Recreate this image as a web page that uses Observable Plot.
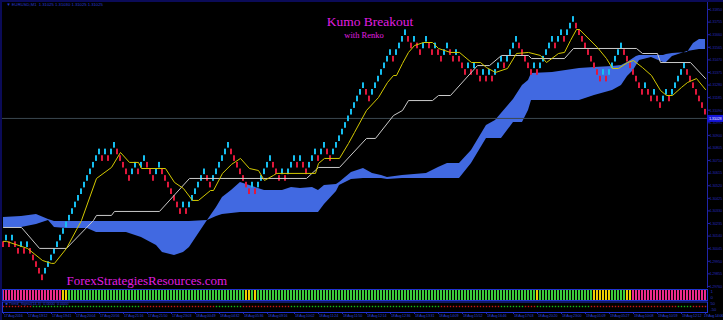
<!DOCTYPE html>
<html><head><meta charset="utf-8">
<script src="https://cdn.jsdelivr.net/npm/d3@7"></script>
<script src="https://cdn.jsdelivr.net/npm/@observablehq/plot@0.6"></script>
<style>
html,body{margin:0;padding:0;background:#000;}
#chart{width:721px;height:318px;border-left:2px solid #0b0b58;border-top:2px solid #0b0b58;background:#000;overflow:hidden;line-height:0;}
#chart svg{display:block;max-width:none;}
</style></head><body><div id="chart"></div>
<script>
// ---------- data ----------
const brickSize = 0.0005;
const brickBase = 1.2995;
const firstBrickUp = false;
const brickLows = [2,3,2,3,2,1,2,1,2,1,0,-1,-2,-3,
 -2,-1,0,1,2,3,4,5,6,7,8,9,10,11,12,13,14,
 15,16,15,16,15,16,17,16,15,14,13,12,
 13,14,13,14,15,14,13,12,13,14,13,12,11,10,9,8,7,
 8,7,8,9,10,11,12,13,12,11,12,13,14,15,16,17,
 16,15,14,13,12,11,10,11,10,11,12,13,14,15,
 14,13,12,13,12,13,14,15,14,15,14,13,14,15,16,15,16,17,16,15,16,17,18,19,20,21,22,
 23,24,25,26,25,24,25,26,27,28,29,30,31,30,31,32,33,34,
 33,32,33,32,31,32,33,32,31,32,31,30,31,32,31,30,31,30,29,28,29,28,29,28,27,28,27,28,27,28,29,30,
 29,30,31,32,33,32,31,30,29,28,29,28,29,30,31,32,33,32,33,34,33,34,35,36,
 35,34,33,32,31,30,29,28,27,28,27,28,29,30,31,32,31,30,29,28,27,26,25,
 26,25,24,25,24,23,24,25,24,25,26,27,28,29,28,27,26,25,24,23,22];

const yellowBar = [0,1,8,13,16,17,21,26,31,36,39,42,45,46,54,57,60,63,65,69,70,73,76,79,82,85,87,90,91,104,105,107,112,115,117,121,125,128,130,131,133,135,137,140,143,145,149,152,156,159,161,164,168,171,175,179,181,185,187,189,191,192,198,201,203,205,208,210,213,216,219,221,223,226,228,231,234];
const yellowPrice = [1.30100,1.30100,1.30047,1.29956,1.29934,1.29934,1.30047,1.30258,1.30575,1.30658,1.30771,1.30696,1.30696,1.30650,1.30650,1.30545,1.30499,1.30409,1.30409,1.30484,1.30484,1.30613,1.30681,1.30726,1.30650,1.30635,1.30560,1.30598,1.30613,1.30613,1.30688,1.30726,1.30726,1.30839,1.30922,1.31088,1.31186,1.31299,1.31352,1.31352,1.31443,1.31526,1.31578,1.31601,1.31601,1.31556,1.31526,1.31526,1.31450,1.31450,1.31412,1.31375,1.31405,1.31518,1.31526,1.31503,1.31450,1.31518,1.31526,1.31616,1.31699,1.31699,1.31563,1.31480,1.31405,1.31405,1.31450,1.31465,1.31412,1.31352,1.31239,1.31201,1.31201,1.31262,1.31299,1.31329,1.31246];

const whiteBar = [0,6,12,21,30,31,36,37,52,62,101,105,112,121,124,130,133,135,143,145,149,158,162,166,175,176,187,190,211,213,218,219,229,234];
const whitePrice = [1.30205,1.30205,1.30047,1.30047,1.30258,1.30296,1.30296,1.30326,1.30326,1.30575,1.30575,1.30658,1.30658,1.30877,1.30877,1.31050,1.31088,1.31163,1.31163,1.31201,1.31201,1.31427,1.31427,1.31503,1.31503,1.31480,1.31480,1.31556,1.31556,1.31518,1.31518,1.31450,1.31450,1.31329];

const cloudBar = [0,6,11,15,17,21,28,31,41,46,51,53,57,60,62,68,71,73,76,79,87,93,96,99,103,105,107,111,112,116,120,123,126,128,133,141,145,148,152,156,159,161,164,166,170,173,175,176,183,192,197,203,206,208,210,211,212,216,220,221,223,228,230,232,234];
const cloudSpanA = [1.30281,1.30288,1.30303,1.30266,1.30250,1.30250,1.30250,1.30250,1.30250,1.30250,1.30250,1.30250,1.30250,1.30250,1.30250,1.30258,1.30356,1.30432,1.30484,1.30545,1.30484,1.30484,1.30507,1.30499,1.30507,1.30484,1.30522,1.30530,1.30545,1.30620,1.30650,1.30613,1.30598,1.30582,1.30598,1.30613,1.30658,1.30688,1.30688,1.30786,1.30899,1.30975,1.31013,1.31065,1.31171,1.31277,1.31314,1.31367,1.31375,1.31405,1.31412,1.31420,1.31427,1.31450,1.31480,1.31495,1.31503,1.31503,1.31503,1.31510,1.31518,1.31526,1.31593,1.31624,1.31624];
const cloudSpanB = [1.30205,1.30205,1.30228,1.30258,1.30205,1.30198,1.30198,1.30167,1.30167,1.30130,1.30069,1.30017,1.29994,1.30017,1.30054,1.30258,1.30288,1.30303,1.30311,1.30318,1.30318,1.30318,1.30318,1.30318,1.30318,1.30318,1.30379,1.30477,1.30522,1.30567,1.30575,1.30575,1.30575,1.30567,1.30575,1.30575,1.30575,1.30575,1.30575,1.30688,1.30801,1.30877,1.30877,1.30877,1.30997,1.30997,1.31088,1.31163,1.31163,1.31163,1.31201,1.31239,1.31277,1.31345,1.31390,1.31427,1.31465,1.31488,1.31450,1.31450,1.31495,1.31533,1.31541,1.31548,1.31548];

const currentPrice = 1.31028;
const priceTicks = [1.31850,1.31755,1.31660,1.31565,1.31470,1.31375,1.31280,1.31185,1.31090,1.30995,1.30900,1.30805,1.30710,1.30615,1.30520,1.30425,1.30330,1.30235,1.30140,1.30045,1.29950,1.29855,1.29760];

const signalRuns = [["P",20],["Y",2],["G",59],["Y",2],["G",1],["Y",1],["G",93],["Y",1],["G",18],["Y",6],["G",5],["Y",2],["P",25]];
const dotRuns = [["R",10],["G",36],["R",25],["G",9],["R",16],["G",50],["R",20],["G",8],["R",4],["G",18],["R",29],["G",5],["R",5]];
const histLabelTop = "1";
const histLabelBottom = "0";
const dotLevels = [50, -50];

const dateTickBars = [0,8,16,24,32,40,48,56,64,72,80,88,97,105,113,121,129,137,145,153,161,170,178,186,194,202,210,218,226,234];
const dateLabels = ["17 Aug 2016","17 Aug 19:12","17 Aug 19:41","17 Aug 20:04","17 Aug 20:56","17 Aug 21:16","17 Aug 21:50","17 Aug 23:03","18 Aug 00:49","18 Aug 04:32","18 Aug 05:36","18 Aug 09:16","18 Aug 10:02","18 Aug 11:24","18 Aug 11:50","18 Aug 12:14","18 Aug 12:36","18 Aug 13:31","18 Aug 14:09","18 Aug 15:52","18 Aug 16:46","18 Aug 17:03","18 Aug 20:20","18 Aug 23:00","19 Aug 01:09","19 Aug 05:27","19 Aug 10:08","19 Aug 10:59","19 Aug 12:12","19 Aug 14:06"];

const titleText = "Kumo Breakout";
const subtitleText = "with Renko";
const watermark = "ForexStrategiesResources.com";
const symbolInfo = "\u25BC EURUSD,M1  1.31025 1.31030 1.31025 1.31025";
const indicatorInfo = "\u25A0 Trend_Signal(14,3)  0.0000  0.0000";

// ---------- build tables ----------
const bricks = brickLows.map((L, i) => ({
  i, low: brickBase + L * brickSize, high: brickBase + (L + 1) * brickSize,
  up: i === 0 ? firstBrickUp : L > brickLows[i - 1]
}));
const yellow = yellowBar.map((i, k) => ({i, p: yellowPrice[k]}));
const white = whiteBar.map((i, k) => ({i, p: whitePrice[k]}));
const cloud = cloudBar.map((i, k) => ({i, a: cloudSpanA[k], b: cloudSpanB[k]}));
const signal = signalRuns.flatMap(([s, n]) => Array(n).fill(s)).map((s, i) => ({i, s, v: 1}));
const dots = dotRuns.flatMap(([s, n]) => Array(n).fill(s)).map((s, i) => ({i, s, v: 0}));
const dates = dateTickBars.map((i, k) => ({i, label: dateLabels[k]}));
const datesMain = dates.slice(0, -1);
const dateLast = dates.slice(-1);

const xDomain = [-0.33, 234.67];
const W = 721, MR = 16;
const axisColor = "#2024a8";
const labelColor = "#2a36c0";
const magenta = "#e01ee0";
const serif = "'Liberation Serif', 'DejaVu Serif', serif";
const sans = "'Liberation Sans', Arial, sans-serif";
const sigColor = {P: "#f02a8e", Y: "#f0d000", G: "#3ccf3c"};
const dotColor = {R: "#c41818", G: "#18b818"};
const halfW = 0.33;

const baseStyle = {background: "#000", color: axisColor, fontSize: "4px", fontFamily: sans, overflow: "visible"};

// ---------- price panel ----------
const main = Plot.plot({
  width: W, height: 286,
  marginLeft: 0, marginRight: MR, marginTop: 0, marginBottom: 1,
  style: baseStyle,
  x: {domain: xDomain, axis: null},
  y: {domain: [1.29752, 1.31903], axis: "right", ticks: priceTicks, tickFormat: d3.format(".5f"),
      tickSize: 2, tickPadding: 0, line: true, label: null},
  marks: [
    Plot.areaY(cloud, {x: "i", y1: "a", y2: "b", fill: "#4169e1", curve: "linear"}),
    Plot.ruleY([currentPrice], {stroke: "#3b4850", strokeWidth: 1}),
    Plot.rect(bricks, {x1: d => d.i - halfW, x2: d => d.i + halfW, y1: "low", y2: "high",
      insetTop: 0.5, insetBottom: 0.5, fill: d => d.up ? "#16c0f2" : "#e2183c"}),
    Plot.line(white, {x: "i", y: "p", stroke: "#cacaca", strokeWidth: 1}),
    Plot.line(yellow, {x: "i", y: "p", stroke: "#d4c900", strokeWidth: 1}),
    Plot.ruleY([currentPrice], {x1: xDomain[1], x2: xDomain[1] + 5.4, stroke: "#1616d8", strokeWidth: 7}),
    Plot.text([currentPrice], {y: d => d, text: d => d3.format(".5f")(d), frameAnchor: "right",
      dx: 1.5, textAnchor: "start", fill: "#e8e8ff", fontSize: 4, fontFamily: sans}),
    Plot.text([titleText], {frameAnchor: "top", dx: 15, dy: 23, lineAnchor: "bottom",
      fill: magenta, fontSize: 13.5, fontFamily: serif}),
    Plot.text([subtitleText], {frameAnchor: "top", dx: 9, dy: 35, lineAnchor: "bottom",
      fill: magenta, fontSize: 8.5, fontFamily: serif}),
    Plot.text([watermark], {frameAnchor: "bottom-left", dx: 64, dy: -3, lineAnchor: "bottom",
      textAnchor: "start", fill: magenta, fontSize: 13, fontFamily: serif}),
    Plot.text([symbolInfo], {frameAnchor: "top-left", dx: 4, dy: 2.5, lineAnchor: "middle",
      textAnchor: "start", fill: "#2a3ad0", fontSize: 4.2, fontFamily: sans})
  ]
});
// tighten the price labels so they fit in the narrow right gutter
d3.select(main).selectAll("text")
  .filter(function() { return /^\d\.\d{5}$/.test(this.textContent); })
  .style("letter-spacing", "-0.3px");

// ---------- histogram panel ----------
const hist = Plot.plot({
  width: W, height: 13,
  marginLeft: 0, marginRight: MR, marginTop: 1, marginBottom: 1,
  style: baseStyle,
  x: {domain: xDomain, axis: null},
  y: {domain: [0, 1], axis: null},
  marks: [
    Plot.rect(signal, {x1: d => d.i - halfW, x2: d => d.i + halfW, y1: 0, y2: "v", fill: d => sigColor[d.s]}),
    Plot.frame({stroke: "#2033d2", strokeWidth: 1}),
    Plot.text([histLabelTop], {frameAnchor: "top-right", dx: 3, dy: 2, lineAnchor: "middle",
      textAnchor: "start", fill: labelColor, fontSize: 4.3, fontFamily: sans}),
    Plot.text([histLabelBottom], {frameAnchor: "bottom-right", dx: 3, dy: -3, lineAnchor: "middle",
      textAnchor: "start", fill: labelColor, fontSize: 4.3, fontFamily: sans})
  ]
});

// ---------- dots panel + dates ----------
const bottom = Plot.plot({
  width: W, height: 19,
  marginLeft: 0, marginRight: MR, marginTop: 0.5, marginBottom: 8,
  style: baseStyle,
  x: {domain: xDomain, axis: "bottom", ticks: dateTickBars, tickFormat: () => "", tickSize: 2, label: null},
  y: {domain: [-100, 75], axis: null},
  marks: [
    Plot.frame({stroke: "#2033d2", strokeWidth: 1}),
    Plot.dot(dots, {x: "i", y: "v", r: 0.8, symbol: "square", fill: d => dotColor[d.s], stroke: null}),
    Plot.text(dotLevels, {y: d => d, text: d => String(d), frameAnchor: "right", dx: 3, lineAnchor: "middle",
      textAnchor: "start", fill: labelColor, fontSize: 4, fontFamily: sans}),
    Plot.text([indicatorInfo], {frameAnchor: "top-left", dx: 3, dy: 2, lineAnchor: "middle",
      textAnchor: "start", fill: "#2a3ad0", fontSize: 3.8, fontFamily: sans}),
    Plot.text(datesMain, {x: "i", text: "label", frameAnchor: "bottom", dy: 4.6, dx: 0.5, lineAnchor: "bottom",
      textAnchor: "start", fill: "#2a44d8", fontSize: 3.7, fontFamily: sans}),
    Plot.text(dateLast, {text: "label", frameAnchor: "bottom-right", dy: 4.6, dx: MR - 0.3, lineAnchor: "bottom",
      textAnchor: "end", fill: "#2a44d8", fontSize: 3.7, fontFamily: sans})
  ]
});
d3.select(bottom).selectAll("text")
  .filter(function() { return /^\d\d Aug /.test(this.textContent); })
  .style("letter-spacing", "-0.2px");

const chart = document.getElementById("chart");
chart.append(main, hist, bottom);
</script>
</body></html>
